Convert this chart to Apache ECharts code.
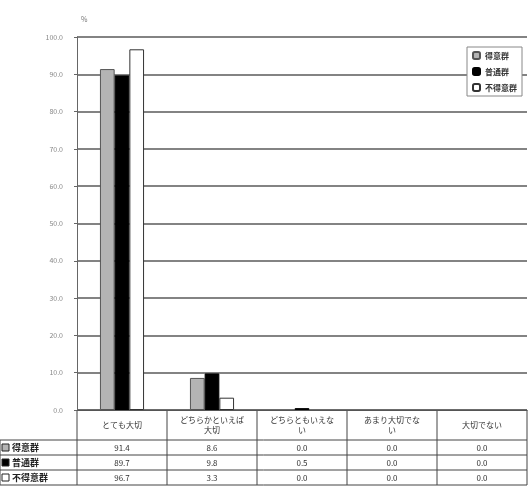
<!DOCTYPE html>
<html>
<head>
<meta charset="utf-8">
<script src="https://cdn.jsdelivr.net/npm/echarts@6/dist/echarts.min.js"></script>
<style>
  html, body { margin: 0; padding: 0; background: #fff; }
  #chart { width: 529px; height: 487px; }
</style>
</head>
<body>
<div id="chart"></div>
<script>
// 回答区分
const categories = ['とても大切', 'どちらかといえば\n大切', 'どちらともいえな\nい', 'あまり大切でな\nい', '大切でない']
const groups = ['得意群', '普通群', '不得意群']
const tokui = [91.4, 8.6, 0.0, 0.0, 0.0]
const futsu = [89.7, 9.8, 0.5, 0.0, 0.0]
const futokui = [96.7, 3.3, 0.0, 0.0, 0.0]
const yTicks = [0, 10, 20, 30, 40, 50, 60, 70, 80, 90, 100]

const seriesData = [tokui, futsu, futokui]
const fills = ['#b4b4b4', '#000000', '#ffffff']
const borders = ['#555', '#000', '#333']
const font = '"Noto Sans CJK JP", "Noto Sans", sans-serif'

const chart = echarts.init(document.getElementById('chart'))

// 表の配置
const gridL = 77, gridR = 2, gridT = 37, gridB = 77
const plotRight = 529 - gridR
const colW = (plotRight - gridL) / categories.length
const headTop = 410, headH = 30, rowH = 15

function buildTable() {
  const els = []
  const line = (x1, y1, x2, y2) => els.push({
    type: 'line', shape: { x1, y1, x2, y2 },
    style: { stroke: '#444', lineWidth: 1 }, silent: true,
  })
  const bottom = headTop + headH + rowH * groups.length
  line(gridL, headTop, plotRight, headTop)
  for (let r = 0; r <= groups.length; r++) {
    const y = headTop + headH + r * rowH
    line(0, y, plotRight, y)
  }
  line(0, headTop + headH, 0, bottom)
  for (let c = 0; c <= categories.length; c++) {
    const x = gridL + c * colW
    line(x, headTop, x, bottom)
  }
  categories.forEach((cat, c) => {
    els.push({
      type: 'text', silent: true,
      style: {
        x: gridL + (c + 0.5) * colW, y: headTop + headH / 2,
        text: cat, align: 'center', verticalAlign: 'middle',
        font: '8px ' + font, fill: '#333', lineHeight: 10,
      },
    })
  })
  groups.forEach((g, r) => {
    const yc = headTop + headH + (r + 0.5) * rowH
    els.push({
      type: 'rect', silent: true,
      shape: { x: 2, y: yc - 3.5, width: 7, height: 7 },
      style: { fill: fills[r], stroke: '#222', lineWidth: 1 },
    })
    els.push({
      type: 'text', silent: true,
      style: {
        x: 12, y: yc, text: g, verticalAlign: 'middle',
        font: 'bold 9px ' + font, fill: '#222',
      },
    })
    seriesData[r].forEach((v, c) => {
      els.push({
        type: 'text', silent: true,
        style: {
          x: gridL + (c + 0.5) * colW, y: yc, text: v.toFixed(1),
          align: 'center', verticalAlign: 'middle',
          font: '8px ' + font, fill: '#333',
        },
      })
    })
  })
  return els
}

chart.setOption({
  backgroundColor: '#fff',
  animation: false,
  textStyle: { fontFamily: font },
  legend: {
    data: groups, orient: 'vertical', right: 7, top: 47,
    itemWidth: 7, itemHeight: 7, itemGap: 7,
    padding: [4, 5], borderColor: '#888', borderWidth: 1,
    backgroundColor: '#fff',
    textStyle: { fontSize: 8, color: '#333', fontWeight: 'bold' },
  },
  grid: { left: gridL, right: gridR, top: gridT, bottom: gridB },
  xAxis: {
    type: 'category', data: categories,
    axisLine: { lineStyle: { color: '#555' } },
    axisTick: { show: false },
    axisLabel: { show: false },
  },
  yAxis: {
    type: 'value', min: yTicks[0], max: yTicks[yTicks.length - 1], interval: 10,
    name: '%', nameLocation: 'end', nameGap: 14,
    nameTextStyle: { fontSize: 7, color: '#777', align: 'left', padding: [0, 0, 0, 4] },
    axisLine: { show: true, lineStyle: { color: '#666' } },
    axisTick: { show: true, length: 3, lineStyle: { color: '#666' } },
    axisLabel: { fontSize: 7, color: '#888', margin: 14, formatter: v => v.toFixed(1) },
    splitLine: { lineStyle: { color: '#5a5a5a', width: 1.5 } },
  },
  series: groups.map((g, i) => ({
    name: g, type: 'bar',
    data: seriesData[i].map(v => v > 0 ? v : { value: v, itemStyle: { borderWidth: 0 } }),
    barGap: '0%', barCategoryGap: '51%',
    itemStyle: { color: fills[i], borderColor: borders[i], borderWidth: 1 },
  })),
  graphic: buildTable(),
})
</script>
</body>
</html>
